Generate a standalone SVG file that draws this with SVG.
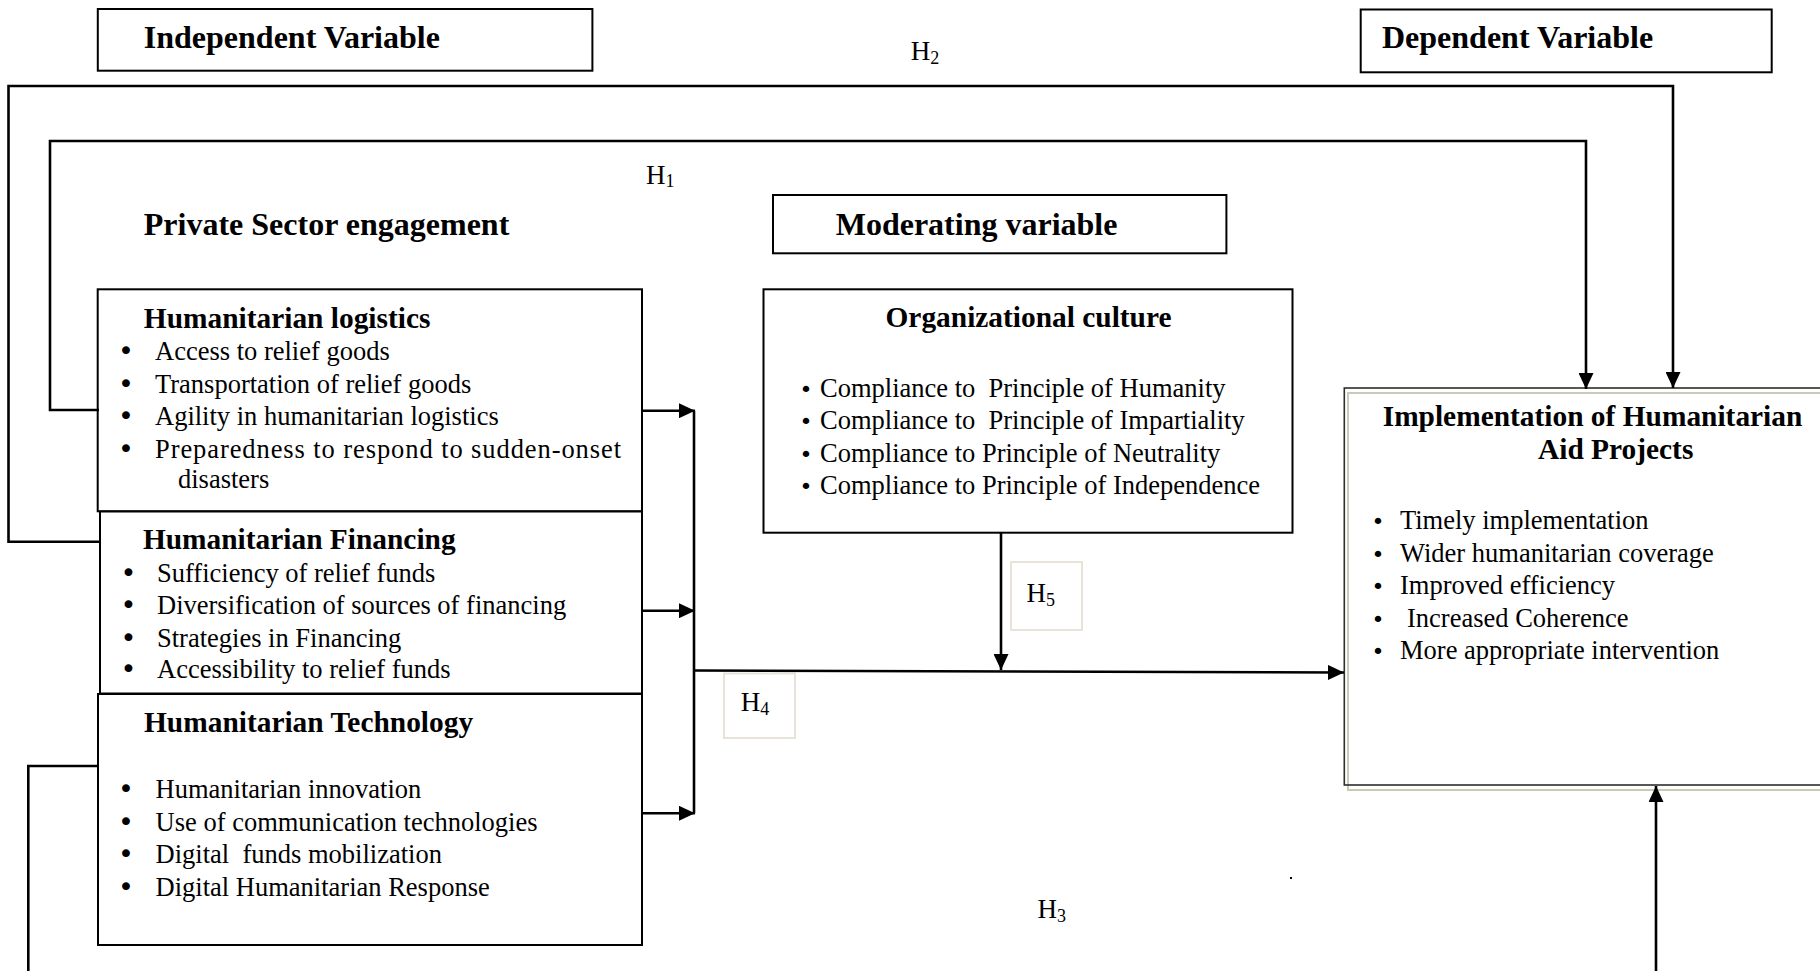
<svg xmlns="http://www.w3.org/2000/svg" width="1820" height="971" viewBox="0 0 1820 971">
<defs>
<marker id="arr" markerWidth="16" markerHeight="15" refX="16" refY="7.5" orient="auto" markerUnits="userSpaceOnUse"><path d="M0,0 L16,7.5 L0,15 z" fill="#000"/></marker>
<style>
.box{fill:#fff;stroke:#000;stroke-width:2}
.hbox{fill:#fff;stroke:#e7e3d9;stroke-width:2}
.conn{fill:none;stroke:#000;stroke-width:2.6}
text{font-family:"Liberation Serif","Times New Roman",serif;fill:#000}
.h{font-size:32px;font-weight:bold}
.t{font-size:29.4px;font-weight:bold}
.b{font-size:26.5px}
.bu{font-family:"DejaVu Sans",sans-serif;font-size:27px;text-anchor:middle}
.bs{font-family:"DejaVu Sans",sans-serif;font-size:22px;text-anchor:middle}
.hl{font-size:27px}
.sub{font-size:18px}
</style>
</defs>
<rect width="1820" height="971" fill="#fff"/>

<g id="independent-label">
<rect class="box" x="97.8" y="9" width="494.6" height="61.7"/>
<text class="h" x="143.8" y="48.3">Independent Variable</text>
</g>
<g id="dependent-label">
<rect class="box" x="1360.7" y="9.5" width="411" height="62.8"/>
<text class="h" x="1382" y="48.3">Dependent Variable</text>
</g>
<g id="moderating-label">
<rect class="box" x="773" y="195" width="453.4" height="58.3"/>
<text class="h" x="835.7" y="235">Moderating variable</text>
</g>
<g id="private-sector-label">
<text class="h" x="143.8" y="235">Private Sector engagement</text>
</g>

<g id="humanitarian-logistics">
<rect class="box" x="97.7" y="289.3" width="544.3" height="222"/>
<text class="t" x="143.8" y="328">Humanitarian logistics</text>
<text class="bu" x="126" y="360">•</text>
<text class="bu" x="126" y="393">•</text>
<text class="bu" x="126" y="425">•</text>
<text class="bu" x="126" y="458">•</text>
<text class="b" x="155" y="360">Access to relief goods</text>
<text class="b" x="155" y="393">Transportation of relief goods</text>
<text class="b" x="155" y="425">Agility in humanitarian logistics</text>
<text class="b" x="155" y="458" textLength="466" lengthAdjust="spacing">Preparedness to respond to sudden-onset</text>
<text class="b" x="178" y="488">disasters</text>
</g>

<g id="humanitarian-financing">
<rect class="box" x="100" y="511.5" width="542" height="182"/>
<text class="t" x="142.9" y="549">Humanitarian Financing</text>
<text class="bu" x="128.5" y="582">•</text>
<text class="bu" x="128.5" y="613.5">•</text>
<text class="bu" x="128.5" y="647">•</text>
<text class="bu" x="128.5" y="678">•</text>
<text class="b" x="157" y="582">Sufficiency of relief funds</text>
<text class="b" x="157" y="613.5">Diversification of sources of financing</text>
<text class="b" x="157" y="647">Strategies in Financing</text>
<text class="b" x="157" y="678">Accessibility to relief funds</text>
</g>

<g id="humanitarian-technology">
<rect class="box" x="98" y="694" width="544" height="251"/>
<text class="t" x="144" y="731.7">Humanitarian Technology</text>
<text class="bu" x="126" y="797.7">•</text>
<text class="bu" x="126" y="831">•</text>
<text class="bu" x="126" y="863">•</text>
<text class="bu" x="126" y="896">•</text>
<text class="b" x="155.6" y="797.7">Humanitarian innovation</text>
<text class="b" x="155.6" y="831">Use of communication technologies</text>
<text class="b" x="155.6" y="863" xml:space="preserve">Digital  funds mobilization</text>
<text class="b" x="155.6" y="896">Digital Humanitarian Response</text>
</g>

<g id="organizational-culture">
<rect class="box" x="763.5" y="289.3" width="529" height="243.4"/>
<text class="t" x="885.5" y="327.3">Organizational culture</text>
<text class="bs" x="806" y="396.7">•</text>
<text class="bs" x="806" y="429.3">•</text>
<text class="bs" x="806" y="462.3">•</text>
<text class="bs" x="806" y="494.3">•</text>
<text class="b" x="820" y="396.7" xml:space="preserve">Compliance to  Principle of Humanity</text>
<text class="b" x="820" y="429.3" xml:space="preserve">Compliance to  Principle of Impartiality</text>
<text class="b" x="820" y="462.3">Compliance to Principle of Neutrality</text>
<text class="b" x="820" y="494.3">Compliance to Principle of Independence</text>
</g>

<g id="implementation">
<rect x="1348" y="393" width="500" height="397" fill="#fff" stroke="#c9cbb6" stroke-width="2"/>
<rect x="1344.3" y="388" width="500" height="397" fill="none" stroke="#2e2e2e" stroke-width="1.6"/>
<text class="t" x="1382.7" y="425.6">Implementation of Humanitarian</text>
<text class="t" x="1538" y="458.7">Aid Projects</text>
<text class="bs" x="1378" y="528.9">•</text>
<text class="bs" x="1378" y="561.6">•</text>
<text class="bs" x="1378" y="594.4">•</text>
<text class="bs" x="1378" y="627">•</text>
<text class="bs" x="1378" y="659">•</text>
<text class="b" x="1400" y="528.9">Timely implementation</text>
<text class="b" x="1400" y="561.6">Wider humanitarian coverage</text>
<text class="b" x="1400" y="594.4">Improved efficiency</text>
<text class="b" x="1407" y="627">Increased Coherence</text>
<text class="b" x="1400" y="659">More appropriate intervention</text>
</g>

<g id="h4-label">
<rect class="hbox" x="724" y="673.5" width="71" height="64.5"/>
<text class="hl" x="740.7" y="710.7">H<tspan class="sub" dy="4">4</tspan></text>
</g>
<g id="h5-label">
<rect class="hbox" x="1011" y="562" width="71" height="68"/>
<text class="hl" x="1026.5" y="601.7">H<tspan class="sub" dy="4">5</tspan></text>
</g>
<g id="h1-label"><text class="hl" x="646" y="184">H<tspan class="sub" dy="3">1</tspan></text></g>
<g id="h2-label"><text class="hl" x="910.7" y="60">H<tspan class="sub" dy="4">2</tspan></text></g>
<g id="h3-label"><text class="hl" x="1037.5" y="918">H<tspan class="sub" dy="4">3</tspan></text></g>

<g id="connectors">
<path class="conn" d="M99,410 H50 V141 H1586 V389" marker-end="url(#arr)"/>
<path class="conn" d="M100,541.7 H8.5 V86 H1673 V388" marker-end="url(#arr)"/>
<path class="conn" d="M99,766 H28.3 V975"/>
<path class="conn" d="M1656,975 V786" marker-end="url(#arr)"/>
<path class="conn" d="M642,410.7 H695" marker-end="url(#arr)"/>
<path class="conn" d="M642,610.7 H695" marker-end="url(#arr)"/>
<path class="conn" d="M642,813.3 H695" marker-end="url(#arr)"/>
<path class="conn" d="M694,410.7 V813.3"/>
<path class="conn" d="M694,670.5 L1344,672.5" marker-end="url(#arr)"/>
<path class="conn" d="M1001,533 V670" marker-end="url(#arr)"/>
</g>
<rect x="1290" y="877" width="2" height="2" fill="#000"/>
</svg>
